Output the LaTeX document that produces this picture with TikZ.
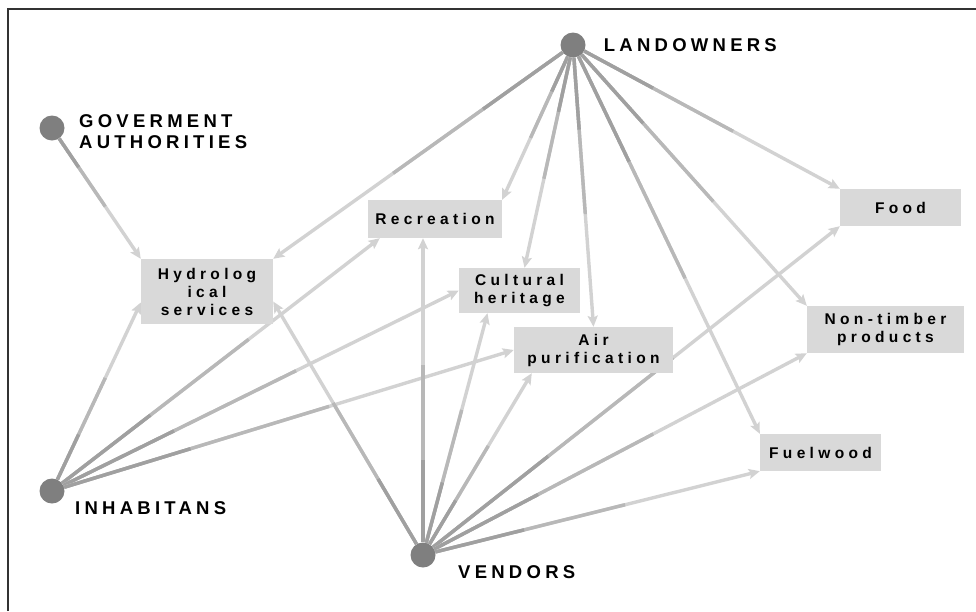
\documentclass[tikz,border=0pt]{standalone}
\usepackage{fontspec}
\setmainfont{Liberation Sans}
\newfontfamily\actorfont[LetterSpace=23]{Liberation Sans}
\newfontfamily\servfont[LetterSpace=28]{Liberation Sans}
\usetikzlibrary{positioning, calc}
\usetikzlibrary{arrows.meta}
\usetikzlibrary{backgrounds}

\definecolor{dotgray}{HTML}{7F7F7F}
\definecolor{boxgray}{HTML}{D9D9D9}
\definecolor{linedark}{HTML}{A0A0A0}
\definecolor{linemid}{HTML}{B8B8B8}
\definecolor{linelight}{HTML}{D2D2D2}

\tikzset{
  actor/.style={circle, fill=dotgray, minimum size=25pt, inner sep=0pt},
  actorlabel/.style={font=\actorfont\bfseries\fontsize{18.5}{21}\selectfont,
    align=left, inner sep=0pt},
  service/.style={fill=boxgray, inner sep=0pt, align=center,
    font=\servfont\bfseries\fontsize{15.5}{18}\selectfont},
  flow/.style={line width=3.4pt, linelight,
    -{Stealth[length=11pt,width=10pt,inset=2pt]}},
  flowmid/.style={line width=3.4pt, linemid},
  flowdark/.style={line width=3.4pt, linedark}
}

% arrow fading from the actor towards the service
\newcommand{\flow}[2]{%
  \draw[flow] (#1) -- (#2);
  \draw[flowmid] (#1) -- ($(#1)!0.6!(#2)$);
  \draw[flowdark] (#1) -- ($(#1)!0.3!(#2)$);
}

\begin{document}
\begin{tikzpicture}[x=1pt,y=-1pt]
\useasboundingbox (0,0) rectangle (976,611);

% frame
\draw[line width=1.5pt, black!80] (8,611) -- (8,9) -- (976,9);

% actors
\node[actor] (land) at (573,45) {};
\node[actor] (gov)  at (52,128) {};
\node[actor] (inh)  at (52,491) {};
\node[actor] (vend) at (423,555) {};

\node[actorlabel, right=18pt of land] (landlbl) {LANDOWNERS};
\node[actorlabel, anchor=west] (govlbl) at (79,132) {GOVERMENT\\AUTHORITIES};
\node[actorlabel, anchor=west] (inhlbl) at (75,508) {INHABITANS};
\node[actorlabel, anchor=west] (vendlbl) at (458,572) {VENDORS};

% services
\node[service, minimum width=132pt, minimum height=65pt] (hydro) at (207,291.5) {Hydrolog\\ical\\services};
\node[service, minimum width=134pt, minimum height=38pt] (recr) at (435,219) {Recreation};
\node[service, minimum width=121pt, minimum height=45pt] (cult) at (519.5,290.5) {Cultural\\heritage};
\node[service, minimum width=159pt, minimum height=46pt] (air) at (593.5,350) {Air\\purification};
\node[service, minimum width=121pt, minimum height=37pt] (food) at (900.5,207.5) {Food};
\node[service, minimum width=157pt, minimum height=47pt] (ntp) at (885.5,329.5) {Non-timber\\products};
\node[service, minimum width=121pt, minimum height=37pt] (fuel) at (820.5,452.5) {Fuelwood};

\begin{scope}[on background layer]
  % government
  \flow{gov}{hydro.north west}

  % landowners
  \flow{land}{hydro.north east}
  \flow{land}{recr.north east}
  \flow{land}{[xshift=5pt]cult.north}
  \flow{land}{air.north}
  \flow{land}{fuel.north west}
  \flow{land}{ntp.north west}
  \flow{land}{food.north west}

  % inhabitants
  \flow{inh}{[yshift=-11pt]hydro.west}
  \flow{inh}{[xshift=12pt]recr.south west}
  \flow{inh}{cult.west}
  \flow{inh}{air.west}

  % vendors
  \flow{vend}{[yshift=-10pt]hydro.east}
  \flow{vend}{[xshift=-12pt]recr.south}
  \flow{vend}{[xshift=-32pt]cult.south}
  \flow{vend}{[xshift=18pt]air.south west}
  \flow{vend}{food.south west}
  \flow{vend}{ntp.south west}
  \flow{vend}{fuel.south west}
\end{scope}

\end{tikzpicture}
\end{document}
